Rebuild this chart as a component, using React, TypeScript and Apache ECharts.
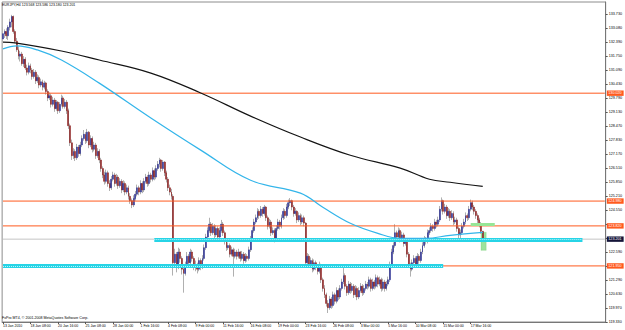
import React, { useEffect, useRef } from "react";
import * as echarts from "echarts";

const chartTitle = "EURJPY,H4 123.568 123.586 123.180 123.201";
const copyrightText = "FxPro MT4, \u00A9 2001-2008 MetaQuotes Software Corp.";

// H4 bars: [open, high, low, close]
const bars: number[][] = [
  [132.55, 133.1, 132.4, 132.8], [132.8, 133.0, 132.6, 132.9], [132.9, 133.05, 132.55, 132.7], [132.7, 133.2, 132.5, 133.1], [133.1, 133.5, 132.95, 133.35], [133.35, 133.68, 133.1, 133.6],
  [133.6, 133.65, 132.8, 132.9], [132.9, 133.0, 132.35, 132.45], [132.45, 132.6, 131.95, 132.05], [132.05, 132.2, 131.6, 131.75], [131.75, 132.0, 131.5, 131.85],
  [131.85, 131.95, 131.3, 131.4], [131.4, 131.75, 131.25, 131.6], [131.6, 131.7, 131.1, 131.2], [131.2, 131.35, 130.85, 131.0], [131.0, 131.45, 130.9, 131.3], [131.3, 131.4, 130.95, 131.1],
  [131.1, 131.2, 130.65, 130.8], [130.8, 131.15, 130.7, 131.0], [131.0, 131.1, 130.45, 130.6], [130.6, 130.9, 130.5, 130.75], [130.75, 130.85, 130.25, 130.4], [130.4, 130.7, 130.3, 130.55],
  [130.55, 130.65, 130.15, 130.3], [130.3, 130.6, 130.2, 130.5], [130.5, 130.55, 129.95, 130.1], [130.1, 130.2, 129.65, 129.8], [129.8, 130.05, 129.7, 129.9], [129.9, 130.0, 129.35, 129.5],
  [129.5, 129.85, 129.4, 129.7], [129.7, 129.8, 129.15, 129.3], [129.3, 129.7, 129.2, 129.6], [129.6, 129.65, 129.05, 129.2], [129.2, 129.6, 129.1, 129.5], [129.5, 129.95, 129.4, 129.8], [129.8, 129.9, 129.3, 129.4], [129.4, 129.75, 129.3, 129.6],
  [129.6, 129.7, 129.05, 129.2], [129.2, 129.3, 128.35, 128.5], [128.5, 128.6, 127.55, 127.7], [127.7, 127.85, 126.9, 127.1], [127.1, 127.45, 126.95, 127.3],
  [127.3, 127.4, 126.85, 127.0], [127.0, 127.65, 126.9, 127.5], [127.5, 127.6, 127.05, 127.2], [127.2, 127.75, 127.1, 127.6], [127.6, 128.05, 127.5, 127.9],
  [127.9, 128.3, 127.8, 128.1], [128.1, 128.2, 127.65, 127.8], [127.8, 128.35, 127.7, 128.2], [128.2, 128.25, 127.45, 127.6], [127.6, 128.05, 127.5, 127.9], [127.9, 128.0, 127.25, 127.4],
  [127.4, 127.75, 127.3, 127.6], [127.6, 127.7, 126.95, 127.1], [127.1, 127.45, 127.0, 127.3], [127.3, 127.4, 126.75, 126.9], [126.9, 127.0, 126.35, 126.5],
  [126.5, 126.6, 126.05, 126.2], [126.2, 126.35, 125.75, 125.9], [125.9, 126.45, 125.8, 126.3], [126.3, 126.4, 125.65, 125.8], [125.8, 125.95, 125.45, 125.6], [125.6, 126.15, 125.5, 126.0],
  [126.0, 126.35, 125.9, 126.2], [126.2, 126.3, 125.65, 125.8], [125.8, 126.25, 125.7, 126.1], [126.1, 126.2, 125.55, 125.7], [125.7, 126.05, 125.6, 125.9], [125.9, 126.0, 125.35, 125.5],
  [125.5, 125.95, 125.4, 125.8], [125.8, 125.9, 125.25, 125.4], [125.4, 125.75, 125.3, 125.6], [125.6, 125.7, 125.05, 125.2], [125.2, 125.35, 124.85, 125.0],
  [125.0, 125.1, 124.65, 124.8], [124.8, 125.25, 124.7, 125.1], [125.1, 125.45, 125.0, 125.3],
  [125.3, 125.75, 125.2, 125.6], [125.6, 125.7, 125.25, 125.4], [125.4, 125.95, 125.3, 125.8], [125.8, 125.9, 125.35, 125.5], [125.5, 126.05, 125.4, 125.9], [125.9, 126.25, 125.8, 126.1],
  [126.1, 126.2, 125.65, 125.8], [125.8, 126.35, 125.7, 126.2], [126.2, 126.3, 125.85, 126.0], [126.0, 126.55, 125.9, 126.4], [126.4, 126.5, 125.95, 126.1], [126.1, 126.65, 126.0, 126.5],
  [126.5, 126.85, 126.4, 126.7], [126.7, 127.0, 126.55, 126.9], [126.9, 126.95, 126.35, 126.5], [126.5, 126.9, 126.4, 126.8],
  [126.8, 126.85, 126.15, 126.3], [126.3, 126.4, 125.85, 126.0], [126.0, 126.1, 125.45, 125.6], [125.6, 125.75, 125.25, 125.4], [125.4, 125.55, 125.05, 125.2],
  [125.2, 125.3, 121.5, 122.1],
  [122.1, 122.75, 121.9, 122.5], [122.5, 122.6, 121.65, 121.9], [121.9, 122.8, 121.8, 122.6], [122.6, 122.75, 122.1, 122.3], [122.3, 122.4, 121.55, 121.8], [121.8, 122.0, 120.7, 121.6],
  [121.6, 122.15, 121.5, 122.0], [122.0, 122.6, 121.9, 122.4], [122.4, 122.5, 121.95, 122.1], [122.1, 122.75, 122.0, 122.6], [122.6, 122.7, 122.15, 122.3], [122.3, 122.4, 121.75, 121.9],
  [121.9, 122.2, 121.7, 122.0], [122.0, 122.1, 121.6, 121.8], [121.8, 122.35, 121.7, 122.2], [122.2, 122.3, 121.75, 121.9], [121.9, 122.45, 121.8, 122.3],
  [122.3, 122.95, 122.2, 122.8], [122.8, 123.45, 122.7, 123.3], [123.3, 123.75, 123.2, 123.6],
  [123.6, 124.2, 123.5, 123.9], [123.9, 124.0, 123.35, 123.5], [123.5, 123.95, 123.4, 123.8], [123.8, 123.9, 123.25, 123.4], [123.4, 123.85, 123.3, 123.7], [123.7, 123.8, 123.15, 123.3], [123.3, 123.75, 123.2, 123.6], [123.6, 124.1, 123.5, 123.9], [123.9, 124.0, 123.35, 123.5],
  [123.5, 123.6, 122.95, 123.1], [123.1, 123.2, 122.65, 122.8], [122.8, 123.05, 122.7, 122.9], [122.9, 123.0, 122.35, 122.5], [122.5, 122.85, 122.4, 122.7], [122.7, 122.8, 121.45, 122.4], [122.4, 122.75, 122.3, 122.6],
  [122.6, 122.7, 122.25, 122.4], [122.4, 122.75, 122.3, 122.6], [122.6, 122.65, 122.15, 122.3], [122.3, 122.65, 122.2, 122.5], [122.5, 122.6, 122.05, 122.2], [122.2, 122.55, 122.1, 122.4], [122.4, 122.5, 122.15, 122.3],
  [122.3, 122.85, 122.2, 122.7], [122.7, 123.35, 122.6, 123.2], [123.2, 123.75, 123.1, 123.6], [123.6, 124.15, 123.5, 124.0],
  [124.0, 124.35, 123.9, 124.2], [124.2, 124.65, 124.1, 124.5], [124.5, 124.6, 124.15, 124.3], [124.3, 124.75, 124.2, 124.6], [124.6, 124.7, 124.25, 124.4], [124.4, 124.8, 124.3, 124.7],
  [124.7, 124.75, 124.05, 124.2], [124.2, 124.3, 123.65, 123.8], [123.8, 124.15, 123.7, 124.0], [124.0, 124.1, 123.35, 123.5], [123.5, 123.75, 123.4, 123.6], [123.6, 123.7, 123.05, 123.2],
  [123.2, 123.85, 123.1, 123.7], [123.7, 124.15, 123.6, 124.0], [124.0, 124.1, 123.65, 123.8], [123.8, 124.35, 123.7, 124.2],
  [124.2, 124.65, 124.1, 124.5], [124.5, 124.6, 124.15, 124.3], [124.3, 124.85, 124.2, 124.7], [124.7, 125.05, 124.6, 124.9], [124.9, 125.12, 124.75, 125.0],
  [125.0, 125.05, 124.55, 124.7], [124.7, 124.8, 124.25, 124.4], [124.4, 124.65, 124.3, 124.5], [124.5, 124.55, 123.95, 124.1], [124.1, 124.45, 124.0, 124.3], [124.3, 124.4, 123.85, 124.0], [124.0, 124.35, 123.9, 124.2],
  [124.2, 124.3, 123.8, 123.95], [123.95, 124.0, 121.95, 122.1],
  [122.1, 122.55, 121.95, 122.4], [122.4, 122.5, 121.85, 122.0], [122.0, 122.35, 121.9, 122.2], [122.2, 122.3, 121.65, 121.8], [121.8, 122.25, 121.7, 122.1], [122.1, 122.2, 121.75, 121.9], [121.9, 122.0, 121.55, 121.7], [121.7, 122.15, 121.6, 122.0],
  [122.0, 122.05, 121.15, 121.3], [121.3, 121.4, 120.75, 120.9], [120.9, 121.05, 120.45, 120.6], [120.6, 120.7, 120.05, 120.2], [120.2, 120.35, 119.75, 120.0],
  [120.0, 120.55, 119.9, 120.4], [120.4, 120.5, 119.95, 120.1], [120.1, 120.75, 120.0, 120.6], [120.6, 120.7, 120.15, 120.3], [120.3, 120.95, 120.2, 120.8], [120.8, 120.9, 120.35, 120.5],
  [120.5, 121.05, 120.4, 120.9], [120.9, 121.35, 120.8, 121.2], [121.2, 121.85, 121.1, 121.5], [121.5, 121.6, 120.85, 121.0], [121.0, 121.1, 120.55, 120.7], [120.7, 121.25, 120.6, 121.1],
  [121.1, 121.2, 120.65, 120.8], [120.8, 121.15, 120.7, 121.0], [121.0, 121.1, 120.45, 120.6], [120.6, 121.05, 120.5, 120.9], [120.9, 121.0, 120.35, 120.5], [120.5, 120.95, 120.4, 120.8], [120.8, 121.15, 120.7, 121.0], [121.0, 121.1, 120.55, 120.7], [120.7, 121.05, 120.6, 120.9], [120.9, 121.25, 120.8, 121.1],
  [121.1, 121.2, 120.85, 121.0], [121.0, 121.45, 120.9, 121.3], [121.3, 121.4, 120.75, 120.9], [120.9, 121.35, 120.8, 121.2], [121.2, 121.3, 120.85, 121.0], [121.0, 121.55, 120.9, 121.4], [121.4, 121.5, 120.95, 121.1], [121.1, 121.45, 121.0, 121.3], [121.3, 121.4, 120.75, 120.9],
  [120.9, 121.35, 120.8, 121.2], [121.2, 121.3, 120.75, 120.9], [120.9, 121.25, 120.8, 121.1], [121.1, 121.45, 121.0, 121.3],
  [121.3, 122.15, 121.2, 122.0], [122.0, 122.75, 121.9, 122.6], [122.6, 123.05, 122.5, 122.9],
  [122.9, 123.9, 122.8, 123.5], [123.5, 123.6, 123.15, 123.3], [123.3, 123.75, 123.2, 123.6],
  [123.6, 123.7, 123.05, 123.2], [123.2, 123.55, 123.1, 123.4], [123.4, 123.5, 122.85, 123.0], [123.0, 123.25, 122.9, 123.1],
  [123.1, 123.15, 122.35, 122.5], [122.5, 122.6, 121.85, 122.0], [122.0, 122.1, 121.45, 121.8], [121.8, 122.25, 121.7, 122.1],
  [122.1, 122.45, 122.0, 122.3], [122.3, 122.4, 121.85, 122.0], [122.0, 122.55, 121.9, 122.4], [122.4, 122.5, 122.05, 122.2], [122.2, 122.75, 122.1, 122.6],
  [122.6, 123.05, 122.5, 122.9], [122.9, 123.35, 122.8, 123.2], [123.2, 123.3, 122.95, 123.1], [123.1, 123.65, 123.0, 123.5], [123.5, 123.75, 123.4, 123.6],
  [123.6, 123.95, 123.5, 123.8], [123.8, 123.9, 123.55, 123.7], [123.7, 124.15, 123.6, 124.0], [124.0, 124.1, 123.75, 123.9], [123.9, 124.25, 123.8, 124.1],
  [124.1, 124.75, 124.0, 124.6], [124.6, 125.15, 124.5, 125.0],
  [125.0, 125.05, 124.35, 124.5], [124.5, 124.85, 124.4, 124.7], [124.7, 124.8, 124.15, 124.3], [124.3, 124.65, 124.2, 124.5], [124.5, 124.6, 124.05, 124.2],
  [124.2, 124.55, 124.1, 124.4], [124.4, 124.5, 123.85, 124.0], [124.0, 124.25, 123.9, 124.1],
  [124.1, 124.2, 123.55, 123.7], [123.7, 123.8, 123.25, 123.4], [123.4, 123.65, 123.2, 123.5],
  [123.5, 123.95, 123.4, 123.8], [123.8, 124.15, 123.7, 124.0], [124.0, 124.45, 123.9, 124.3], [124.3, 124.4, 124.05, 124.2], [124.2, 124.75, 124.1, 124.6],
  [124.6, 125.05, 124.5, 124.9], [124.9, 125.0, 124.55, 124.7],
  [124.7, 124.8, 124.35, 124.5], [124.5, 124.6, 124.15, 124.3], [124.3, 124.4, 123.95, 124.1],
  [124.1, 124.2, 123.75, 123.9], [123.9, 124.0, 123.45, 123.568],
  [123.568, 123.586, 123.18, 123.201],
];

// number of bar slots across the chart (includes empty right shift)
const slotCount = 351;

// time axis labels: bar index -> text
const xTickIndex = [0, 16, 32, 48, 64, 80, 96, 112, 128, 144, 160, 176, 192, 208, 224, 240, 256, 272];
const xTickText = [
  "13 Jan 2010", "18 Jan 08:00", "20 Jan 16:00", "25 Jan 08:00", "28 Jan 00:00", "1 Feb 16:00",
  "4 Feb 08:00", "9 Feb 00:00", "11 Feb 16:00", "16 Feb 08:00", "19 Feb 00:00", "23 Feb 16:00",
  "26 Feb 08:00", "3 Mar 00:00", "5 Mar 16:00", "10 Mar 08:00", "15 Mar 00:00", "17 Mar 16:00",
];

// price axis
const priceMin = 119.33;
const priceMax = 134.28;
const priceStep = 0.6545;
const priceTickText = [
  "119.330", "119.970", "120.630", "121.290", "121.940", "122.590", "123.250", "123.910",
  "124.550", "125.210", "125.850", "126.510", "127.170", "127.830", "128.470", "129.130",
  "129.790", "130.430", "131.090", "131.750", "132.390", "133.080", "133.730",
];

// moving averages read at sample bars: [bar index, price]
const slowMA: number[][] = [
  [0, 132.41], [7, 132.37], [34, 131.99], [56, 131.57], [86, 130.96], [115, 130.03], [144, 128.95],
  [173, 127.97], [202, 127.12], [231, 126.52], [248, 126.0], [260, 125.86], [279, 125.67],
];
const fastMA: number[][] = [
  [0, 132.09], [8, 132.23], [20, 132.04], [34, 131.57], [56, 130.49], [86, 128.86], [115, 127.36],
  [144, 125.95], [173, 125.35], [186, 124.69], [202, 123.94], [218, 123.47], [231, 123.24],
  [246, 123.24], [260, 123.38], [279, 123.52],
];

// horizontal levels
const levelPrices = [130.02, 124.98, 123.82, 121.95];
const levelTexts = ["130.020", "124.980", "123.820", "121.950"];
const bidPrice = 123.201;
const bidText = "123.201";

// trend segments: [from bar, to bar, price]
const bandSegments: number[][] = [
  [88, 337, 123.18],
  [0, 256, 121.95],
];
const greenSegment = [272, 286, 123.88];
const greenBox = [278, 281, 123.52, 122.68];

const FONT = "Liberation Sans";

export default function App() {
  const ref = useRef<HTMLDivElement>(null);

  useEffect(() => {
    if (!ref.current) return;
    const chart = echarts.init(ref.current, undefined, { renderer: "svg" });
    const categories = Array.from({ length: slotCount }, (_, i) => String(i));
    const tickSet = new Set(xTickIndex);

    const wickData = bars.map((b) => [b[0], b[3], b[2], b[1]]);
    const bodyData = bars.map((b) => [b[0], b[3], Math.min(b[0], b[3]), Math.max(b[0], b[3])]);

    // price labels covered by the coloured level boxes on the right scale
    const coveredPrices = [...levelPrices, bidPrice];

    const orange = "#ff5a1e";

    // horizontal level across every slot, with its price box at the right end
    const levelSeries = (price: number, text: string, lineColor: string, boxColor: string, z: number) => ({
      name: "level " + text,
      type: "line",
      data: [
        [0, price],
        [slotCount - 1, price],
      ],
      z,
      symbol: "none",
      silent: true,
      lineStyle: { color: lineColor, width: 1, type: "solid", opacity: 1 },
      itemStyle: { color: lineColor },
      endLabel: {
        show: true,
        formatter: text,
        distance: 2,
        backgroundColor: boxColor,
        color: "#ffffff",
        fontSize: 3.7,
        fontFamily: FONT,
        padding: [0.8, 2, 0.6, 1.5],
      },
    });

    const option: any = {
      animation: false,
      backgroundColor: "#ffffff",
      grid: {
        left: 1,
        top: 2,
        right: 17,
        bottom: 8,
        show: true,
        borderColor: "#8c8c8c",
        borderWidth: 1,
        containLabel: false,
      },
      xAxis: {
        type: "category",
        data: categories,
        boundaryGap: true,
        axisLine: { show: true, lineStyle: { color: "#777777", width: 1 } },
        axisTick: {
          show: true,
          alignWithLabel: true,
          length: 2,
          interval: (i: number) => tickSet.has(i),
          lineStyle: { color: "#555555" },
        },
        axisLabel: {
          show: true,
          interval: (i: number) => tickSet.has(i),
          formatter: (_v: string, i: number) => {
            const k = xTickIndex.indexOf(i);
            return k >= 0 ? xTickText[k] : "";
          },
          align: "left",
          margin: 2,
          fontSize: 3.5,
          fontFamily: FONT,
          color: "#000000",
        },
        splitLine: { show: false },
      },
      yAxis: {
        type: "value",
        position: "right",
        min: priceMin,
        max: priceMax,
        interval: priceStep,
        splitLine: { show: false },
        axisLine: { show: true, lineStyle: { color: "#777777", width: 1 } },
        axisTick: { show: true, length: 2, lineStyle: { color: "#555555" } },
        axisLabel: {
          margin: 3,
          fontSize: 3.7,
          fontFamily: FONT,
          color: "#000000",
          showMaxLabel: false,
          formatter: (v: number) => {
            const k = Math.round((v - priceMin) / priceStep);
            if (k < 0 || k >= priceTickText.length) return "";
            if (Math.abs(v - (priceMin + k * priceStep)) > 0.01) return "";
            if (coveredPrices.some((p) => Math.abs(p - v) < 0.2)) return "";
            return priceTickText[k];
          },
        },
      },
      series: [
        {
          name: "range",
          type: "candlestick",
          data: wickData,
          barWidth: 1,
          z: 2,
          itemStyle: {
            color: "#b0b0b0",
            color0: "#b0b0b0",
            borderColor: "#b0b0b0",
            borderColor0: "#b0b0b0",
            borderWidth: 1,
          },
        },
        {
          name: "body",
          type: "candlestick",
          data: bodyData,
          barWidth: 1.4,
          z: 3,
          itemStyle: {
            color: "#2b2f92",
            color0: "#8c1e1e",
            borderColor: "#2b2f92",
            borderColor0: "#8c1e1e",
            borderWidth: 0.5,
          },
        },
        ...levelPrices.map((p, i) => levelSeries(p, levelTexts[i], orange, orange, 4)),
        levelSeries(bidPrice, bidText, "#c4c4c4", "#141438", 4),
        {
          name: "bands",
          type: "line",
          data: [],
          z: 5,
          markLine: {
            silent: true,
            symbol: ["none", "none"],
            animation: false,
            label: { show: false },
            data: [
              ...bandSegments.map((s) => [
                { coord: [s[0], s[2]], lineStyle: { color: "#27d4e6", width: 4, type: "solid" } },
                { coord: [s[1], s[2]] },
              ]),
              ...bandSegments.map((s) => [
                { coord: [s[0], s[2]], lineStyle: { color: "#b8f5fb", width: 1, type: [1, 1] } },
                { coord: [s[1], s[2]] },
              ]),
              [
                { coord: [greenSegment[0], greenSegment[2]], lineStyle: { color: "#96e696", width: 3, type: "solid" } },
                { coord: [greenSegment[1], greenSegment[2]] },
              ],
            ],
          },
          markArea: {
            silent: true,
            itemStyle: { color: "rgba(140,222,140,0.85)", borderColor: "#5cc45c", borderWidth: 0.5, borderType: "dotted" },
            data: [[{ coord: [greenBox[0], greenBox[2]] }, { coord: [greenBox[1], greenBox[3]] }]],
          },
        },
        {
          name: "MA slow",
          type: "line",
          data: slowMA,
          smooth: 0.4,
          symbol: "none",
          z: 6,
          lineStyle: { color: "#141414", width: 1.2 },
        },
        {
          name: "MA fast",
          type: "line",
          data: fastMA,
          smooth: 0.4,
          symbol: "none",
          z: 6,
          lineStyle: { color: "#33b5ea", width: 1.2 },
        },
      ],
      graphic: [
        {
          type: "text",
          left: 2,
          top: 2.5,
          style: { text: chartTitle, fontSize: 3.5, fontFamily: FONT, fill: "#000000" },
        },
        {
          type: "text",
          left: 2,
          top: 316,
          style: { text: copyrightText, fontSize: 3.6, fontFamily: FONT, fill: "#000000" },
        },
      ],
    };

    chart.setOption(option);
    return () => chart.dispose();
  }, []);

  return (
    <div
      ref={ref}
      style={{ position: "fixed", left: 0, top: 0, width: 625, height: 330, background: "#ffffff" }}
    />
  );
}
